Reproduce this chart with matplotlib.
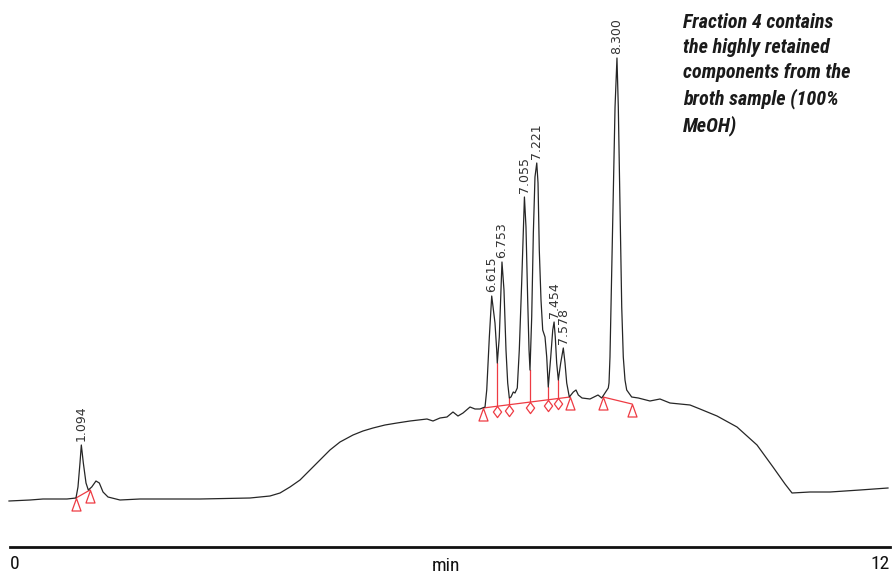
import matplotlib
matplotlib.use("Agg")
import matplotlib.pyplot as plt
from matplotlib import font_manager
from matplotlib.path import Path

# ---- data ----
time_min = [0.121, 0.404, 0.578, 0.901, 1.022, 1.049, 1.076, 1.094, 1.121, 1.157,
            1.188, 1.234, 1.291, 1.336, 1.386, 1.453, 1.614, 1.883, 2.691, 3.363,
            3.632, 3.767, 3.901, 4.036, 4.211, 4.332, 4.439, 4.574, 4.749, 4.883,
            5.018, 5.179, 5.341, 5.516, 5.744, 5.825, 5.919, 6.013, 6.094, 6.161,
            6.229, 6.323, 6.390, 6.457, 6.525, 6.548, 6.583, 6.615, 6.659, 6.682,
            6.690, 6.717, 6.740, 6.753, 6.780, 6.807, 6.830, 6.852, 6.874, 6.905,
            6.928, 6.959, 6.986, 7.018, 7.040, 7.055, 7.076, 7.099, 7.117, 7.130,
            7.153, 7.175, 7.197, 7.221, 7.238, 7.255, 7.278, 7.301, 7.332, 7.355,
            7.376, 7.409, 7.436, 7.454, 7.470, 7.489, 7.511, 7.543, 7.578, 7.601,
            7.624, 7.659, 7.713, 7.749, 7.780, 7.830, 7.937, 8.045, 8.095, 8.139,
            8.183, 8.193, 8.206, 8.229, 8.251, 8.274, 8.300, 8.318, 8.341, 8.364,
            8.385, 8.408, 8.431, 8.498, 8.587, 8.744, 8.879, 9.013, 9.283, 9.417,
            9.646, 9.915, 10.184, 10.399, 10.561, 10.655, 10.897, 11.166, 11.570, 11.946]
signal = [46, 47, 48, 48, 49, 60, 84, 102, 84, 64,
          57, 60, 66, 64, 55, 50, 47, 48, 48, 49,
          51, 54, 60, 67, 80, 89, 97, 105, 112, 116,
          119, 122, 124, 126, 128, 126, 129, 130, 135, 131,
          134, 140, 138, 138, 140, 157, 210, 251, 224, 197,
          184, 210, 257, 285, 257, 197, 164, 149, 150, 155,
          154, 159, 197, 264, 314, 350, 320, 247, 197, 177,
          230, 314, 370, 384, 364, 297, 247, 217, 210, 190,
          160, 190, 217, 225, 210, 184, 167, 184, 199, 184,
          164, 150, 155, 157, 152, 149, 148, 152, 149, 154,
          159, 164, 190, 274, 357, 440, 489, 440, 340, 240,
          190, 167, 157, 150, 149, 146, 148, 144, 142, 138,
          131, 120, 102, 80, 63, 54, 55, 55, 57, 59]

peak_times = [1.094, 6.615, 6.753, 7.055, 7.221, 7.454, 7.578, 8.300]
peak_heights = [102, 251, 285, 350, 384, 225, 199, 489]

# integration baselines: (start time, start signal, end time, end signal)
base_t0 = [1.022, 6.502, 8.112]
base_s0 = [49, 139, 150]
base_t1 = [1.211, 7.668, 8.502]
base_s1 = [57, 150, 143]

# valley drop lines (time, valley signal) on the second baseline
valley_t = [6.690, 6.852, 7.130, 7.376, 7.511]
valley_s = [184, 149, 177, 160, 167]

annotation = ("Fraction 4 contains\nthe highly retained\ncomponents from the\n"
              "broth sample (100%\nMeOH)")
x_tick_labels = ["0", "12"]
x_label = "min"

# ---- font choice: a narrow sans if one is installed ----
entries = font_manager.fontManager.ttflist
names = {f.name for f in entries}
narrow_props = None
for cand in ["Liberation Sans Narrow", "Roboto Condensed", "Open Sans Condensed",
             "Noto Sans Condensed"]:
    if cand in names:
        narrow_props = dict(family=cand)
        break
if narrow_props is None:
    narrow_props = dict(family="Roboto") if "Roboto" in names else dict(family="Liberation Sans")
is_true_narrow = narrow_props["family"] in ("Liberation Sans Narrow", "Roboto Condensed",
                                            "Open Sans Condensed", "Noto Sans Condensed")
ann_size = 14.5 if is_true_narrow else 12.2
tick_size = 14 if is_true_narrow else 12.5

RED = "#ee3b43"
TRACE = "#262626"

fig = plt.figure(figsize=(8.92, 5.73), dpi=100)
ax = fig.add_axes([0, 0, 1, 1])
ax.set_xlim(0, 12)
ax.set_ylim(-26, 547)

ax.plot(time_min, signal, color=TRACE, lw=0.9, zorder=3)

tri = Path([(0, 0), (0.36, -1), (-0.36, -1), (0, 0)],
           [Path.MOVETO, Path.LINETO, Path.LINETO, Path.CLOSEPOLY])
dia = Path([(0, 0), (0.37, -0.5), (0, -1), (-0.37, -0.5), (0, 0)],
           [Path.MOVETO, Path.LINETO, Path.LINETO, Path.LINETO, Path.CLOSEPOLY])

for t0, s0, t1, s1 in zip(base_t0, base_s0, base_t1, base_s1):
    ax.plot([t0, t1], [s0, s1], color=RED, lw=0.9, zorder=2)
    ax.plot([t0, t1], [s0, s1], ls="none", marker=tri, ms=18,
            mfc="none", mec=RED, mew=0.9, zorder=4)

bt0, bs0, bt1, bs1 = base_t0[1], base_s0[1], base_t1[1], base_s1[1]
for vt, vs in zip(valley_t, valley_s):
    bs = bs0 + (bs1 - bs0) * (vt - bt0) / (bt1 - bt0)
    ax.plot([vt, vt], [bs, vs], color=RED, lw=0.9, zorder=2)
    ax.plot([vt], [bs], ls="none", marker=dia, ms=16,
            mfc="none", mec=RED, mew=0.9, zorder=4)

for pt, ph in zip(peak_times, peak_heights):
    ax.annotate(f"{pt:.3f}", xy=(pt, ph), xytext=(0, 3), textcoords="offset points",
                rotation=90, ha="center", va="bottom", fontsize=9,
                family="DejaVu Sans", color="#333333")

# axes decorations
for side in ["top", "left", "right"]:
    ax.spines[side].set_visible(False)
ax.spines["bottom"].set_position(("data", 0))
ax.spines["bottom"].set_bounds(0.135, 11.97)
ax.spines["bottom"].set_linewidth(2.0)
ax.spines["bottom"].set_color("#111111")
ax.set_yticks([])
ax.set_xticks([0.135, 11.97], x_tick_labels)
ax.tick_params(axis="x", length=0, pad=6, labelsize=tick_size, labelcolor="#111111")
tl = ax.get_xticklabels()
tl[0].set_ha("left")
tl[1].set_ha("right")
for lab in tl:
    lab.set_fontproperties(font_manager.FontProperties(size=tick_size, **narrow_props))
ax.set_xlabel(x_label, color="#111111",
              fontproperties=font_manager.FontProperties(size=tick_size, **narrow_props))
ax.xaxis.set_label_coords(0.5, 0.0285)
ax.xaxis.label.set_va("top")

fig.text(683 / 892, 1 - 13 / 573, annotation, ha="left", va="top",
         fontproperties=font_manager.FontProperties(size=ann_size, weight="bold",
                                                    style="italic", **narrow_props),
         linespacing=1.40, color="#1a1a1a")

fig.savefig("out.png", dpi=100, facecolor="white")
